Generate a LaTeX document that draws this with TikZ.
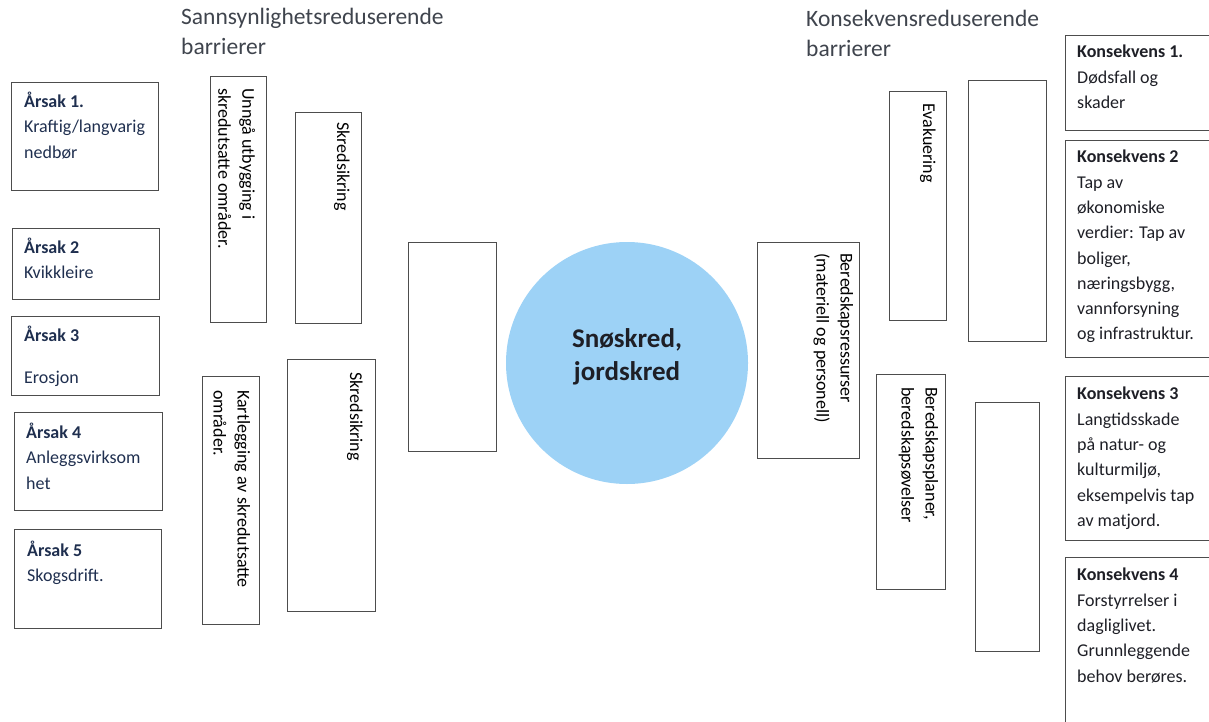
\documentclass[tikz,border=0pt]{standalone}
\usepackage{fontspec}
\setmainfont{Carlito}
\usetikzlibrary{positioning}

\definecolor{causeblue}{HTML}{1F2F4F}
\definecolor{consdark}{HTML}{1E1F26}
\definecolor{titlegrey}{HTML}{3F444D}
\definecolor{eventblue}{HTML}{9DD2F6}
\definecolor{boxline}{HTML}{4D4D4D}

\begin{document}
\begin{tikzpicture}[x=1pt,y=-1pt,
    barbox/.style={draw=boxline, line width=1.4pt, anchor=north west, inner sep=0pt},
    boxtext/.style={anchor=north west, align=left, inner sep=0pt,
      font=\fontsize{18}{25.3}\selectfont, execute at begin node={\rule{0pt}{14pt}}},
    vtext/.style={boxtext, rotate=-90, font=\fontsize{18}{24}\selectfont},
    title/.style={anchor=base west, align=left, inner sep=0pt, text=titlegrey,
      font=\fontsize{23.5}{30}\selectfont}]

  \useasboundingbox (0,0) rectangle (1209,722);

  % Titles (base is the last line)
  \node[title] (titleL) at (181,55) {Sannsynlighetsreduserende\\barrierer};
  \node[title] (titleR) at (806,57) {Konsekvensreduserende\\barrierer};

  % Causes
  \node[barbox, minimum width=147pt, minimum height=108pt] (a1) at (11,82) {};
  \node[barbox, minimum width=147pt, minimum height=71pt] (a2) at (12,228) {};
  \node[barbox, minimum width=148pt, minimum height=79pt] (a3) at (11,316) {};
  \node[barbox, minimum width=148pt, minimum height=98pt] (a4) at (14,412) {};
  \node[barbox, minimum width=147pt, minimum height=99pt] (a5) at (14,529) {};

  \node[boxtext, text=causeblue] at ([shift={(13,10)}]a1.north west) {\textbf{Årsak 1.}\\Kraftig/langvarig\\nedbør};
  \node[boxtext, text=causeblue] at ([shift={(12,10)}]a2.north west) {\textbf{Årsak 2}\\Kvikkleire};
  \node[boxtext, text=causeblue] at ([shift={(13,10)}]a3.north west) {\textbf{Årsak 3}\\[17pt]Erosjon};
  \node[boxtext, text=causeblue] at ([shift={(12,11)}]a4.north west) {\textbf{Årsak 4}\\Anleggsvirksom\\het};
  \node[boxtext, text=causeblue] at ([shift={(13,12)}]a5.north west) {\textbf{Årsak 5}\\Skogsdrift.};

  % Probability reducing barriers
  \node[barbox, minimum width=56pt, minimum height=246pt] (unnga) at (210,76) {};
  \node[barbox, minimum width=66pt, minimum height=211pt] (skred1) at (295,112) {};
  \node[barbox, minimum width=57pt, minimum height=248pt] (kart) at (202,376) {};
  \node[barbox, minimum width=88pt, minimum height=252pt] (skred2) at (287,359) {};
  \node[barbox, minimum width=88pt, minimum height=209pt] (blankL) at (408,242) {};

  \node[vtext] at ([shift={(-12,12)}]unnga.north east) {Unngå utbygging i\\skredutsatte områder.};
  \node[vtext] at ([shift={(-11,10)}]skred1.north east) {Skredsikring};
  \node[vtext] at ([shift={(-10,14)}]kart.north east) {Kartlegging av skredutsatte\\områder.};
  \node[vtext] at ([shift={(-12,13)}]skred2.north east) {Skredsikring};

  % Top event
  \node[circle, fill=eventblue, minimum size=242pt, inner sep=0pt] (event) at (627,363) {};
  \node[align=center, inner sep=0pt, text=consdark, font=\fontsize{27}{33}\selectfont\bfseries]
    at ([yshift=6pt]event.center) {Snøskred,\\jordskred};

  % Consequence reducing barriers
  \node[barbox, minimum width=102pt, minimum height=216pt] (ressurs) at (757,242) {};
  \node[barbox, minimum width=57pt, minimum height=229pt] (evak) at (889,91) {};
  \node[barbox, minimum width=78pt, minimum height=261pt] (blankR1) at (968,80) {};
  \node[barbox, minimum width=69pt, minimum height=215pt] (planer) at (876,374) {};
  \node[barbox, minimum width=64pt, minimum height=249pt] (blankR2) at (975,402) {};

  \node[vtext] at ([shift={(-7,11)}]ressurs.north east) {Beredskapsressurser\\(materiell og personell)};
  \node[vtext] at ([shift={(-10,12)}]evak.north east) {Evakuering};
  \node[vtext] at ([shift={(-8,13)}]planer.north east) {Beredskapsplaner,\\beredskapsøvelser};

  % Consequences
  \node[barbox, minimum width=160pt, minimum height=95pt] (k1) at (1065,35) {};
  \node[barbox, minimum width=160pt, minimum height=217pt] (k2) at (1065,140) {};
  \node[barbox, minimum width=160pt, minimum height=164pt] (k3) at (1065,376) {};
  \node[barbox, minimum width=160pt, minimum height=200pt] (k4) at (1065,557) {};

  \node[boxtext, text=consdark] at ([shift={(12,10)}]k1.north west) {\textbf{Konsekvens 1.}\\Dødsfall og\\skader};
  \node[boxtext, text=consdark] at ([shift={(12,10)}]k2.north west) {\textbf{Konsekvens 2}\\Tap av\\økonomiske\\verdier: Tap av\\boliger,\\næringsbygg,\\vannforsyning\\og infrastruktur.};
  \node[boxtext, text=consdark] at ([shift={(12,11)}]k3.north west) {\textbf{Konsekvens 3}\\Langtidsskade\\på natur- og\\kulturmiljø,\\eksempelvis tap\\av matjord.};
  \node[boxtext, text=consdark] at ([shift={(12,11)}]k4.north west) {\textbf{Konsekvens 4}\\Forstyrrelser i\\dagliglivet.\\Grunnleggende\\behov berøres.};
\end{tikzpicture}
\end{document}
